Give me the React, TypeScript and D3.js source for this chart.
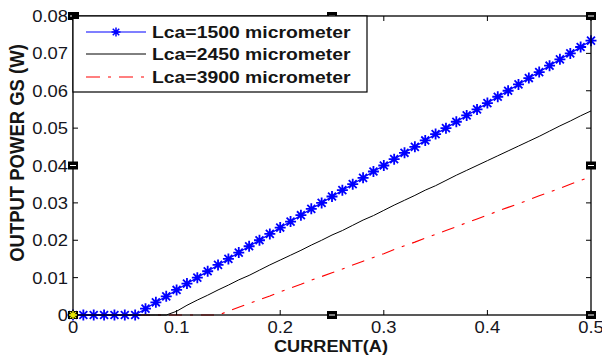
import React from "react";
import * as d3 from "d3";

const currents = [0, 0.01, 0.02, 0.03, 0.04, 0.05, 0.06, 0.07, 0.08, 0.09, 0.1, 0.11, 0.12, 0.13, 0.14, 0.15, 0.16, 0.17, 0.18, 0.19, 0.2, 0.21, 0.22, 0.23, 0.24, 0.25, 0.26, 0.27, 0.28, 0.29, 0.3, 0.31, 0.32, 0.33, 0.34, 0.35, 0.36, 0.37, 0.38, 0.39, 0.4, 0.41, 0.42, 0.43, 0.44, 0.45, 0.46, 0.47, 0.48, 0.49, 0.5];

const powerL1500 = [0, 0, 0, 0, 0, 0, 0, 0.0017, 0.0034, 0.005, 0.0067, 0.0084, 0.01, 0.0117, 0.0134, 0.015, 0.0167, 0.0184, 0.02, 0.0217, 0.0234, 0.025, 0.0267, 0.0284, 0.03, 0.0317, 0.0334, 0.035, 0.0367, 0.0384, 0.04, 0.0417, 0.0434, 0.045, 0.0467, 0.0484, 0.05, 0.0517, 0.0534, 0.055, 0.0567, 0.0584, 0.06, 0.0617, 0.0634, 0.065, 0.0667, 0.0684, 0.07, 0.0717, 0.0734];

const powerL2450 = [0, 0, 0, 0, 0, 0, 0, 0, 0, 0, 0.001, 0.0026, 0.004, 0.0053, 0.0067, 0.008, 0.0094, 0.0106, 0.012, 0.0134, 0.0147, 0.016, 0.0173, 0.0187, 0.02, 0.0214, 0.0226, 0.024, 0.0254, 0.0266, 0.028, 0.0294, 0.0307, 0.032, 0.0334, 0.0346, 0.036, 0.0374, 0.0387, 0.04, 0.0413, 0.0426, 0.0439, 0.0452, 0.0465, 0.0478, 0.0492, 0.0506, 0.0519, 0.0533, 0.0546];

const powerL3900 = [0, 0, 0, 0, 0, 0, 0, 0, 0, 0, 0, 0, 0, 0, 0, 0.001, 0.0021, 0.0031, 0.0041, 0.0051, 0.0062, 0.0072, 0.0082, 0.0093, 0.0103, 0.0113, 0.0123, 0.0134, 0.0144, 0.0154, 0.0164, 0.0175, 0.0185, 0.0195, 0.0206, 0.0216, 0.0226, 0.0236, 0.0247, 0.0257, 0.0267, 0.0278, 0.0288, 0.0298, 0.0308, 0.0319, 0.0329, 0.0339, 0.035, 0.036, 0.037];

const xTicks = [0, 0.1, 0.2, 0.3, 0.4, 0.5];
const xTickLabels = ["0", "0.1", "0.2", "0.3", "0.4", "0.5"];
const yTicks = [0, 0.01, 0.02, 0.03, 0.04, 0.05, 0.06, 0.07, 0.08];
const yTickLabels = ["0", "0.01", "0.02", "0.03", "0.04", "0.05", "0.06", "0.07", "0.08"];

const squareMarkersX = [0, 0.25, 0.5];
const squareMarkersY = [0, 0.04, 0.08];

const legendLabels = ["Lca=1500 micrometer", "Lca=2450 micrometer", "Lca=3900 micrometer"];

const W = 602;
const H = 360;
const L = 73, R = 591, T = 16, B = 315;

const FONT = "'Liberation Sans', Arial, sans-serif";

function Star({ x, y, r, color, sw }: { x: number; y: number; r: number; color: string; sw: number }) {
  const d = r * 0.72;
  return (
    <path
      d={`M${x - r},${y}H${x + r}M${x},${y - r}V${y + r}M${x - d},${y - d}L${x + d},${y + d}M${x - d},${y + d}L${x + d},${y - d}`}
      stroke={color}
      strokeWidth={sw}
      fill="none"
    />
  );
}

export default function App() {
  const x = d3.scaleLinear().domain([0, 0.5]).range([L, R]);
  const y = d3.scaleLinear().domain([0, 0.08]).range([B, T]);
  const line = d3
    .line<number>()
    .x((_, i) => x(currents[i]))
    .y((d) => y(d));

  const tickLen = 5;

  const squares: [number, number][] = [];
  squareMarkersX.forEach((a) =>
    squareMarkersY.forEach((b) => {
      if (a === 0.25 && b === 0.04) return;
      squares.push([a, b]);
    })
  );

  const legendRows = [32, 54, 77];

  return (
    <svg
      width={W}
      height={H}
      style={{ position: "absolute", left: 0, top: 0, background: "#fff" }}
      fontFamily={FONT}
    >
      <rect x={0} y={0} width={W} height={H} fill="#fff" />

      {/* data lines */}
      <path d={line(powerL3900) || ""} fill="none" stroke="#ff0000" strokeWidth={1.1} strokeDasharray="13,8,3,8" />
      <path d={line(powerL2450) || ""} fill="none" stroke="#000" strokeWidth={1} />
      <path d={line(powerL1500) || ""} fill="none" stroke="#0000ff" strokeWidth={1.2} />
      {powerL1500.map((v, i) => (
        <Star key={i} x={x(currents[i])} y={y(v)} r={5.5} color="#0000ff" sw={1.8} />
      ))}

      {/* axes box */}
      <rect x={L} y={T} width={R - L} height={B - T} fill="none" stroke="#000" strokeWidth={1.3} />

      {/* ticks */}
      {xTicks.map((t, i) => (
        <g key={"xt" + i}>
          <line x1={x(t)} x2={x(t)} y1={B} y2={B - tickLen} stroke="#000" strokeWidth={1} />
          <line x1={x(t)} x2={x(t)} y1={T} y2={T + tickLen} stroke="#000" strokeWidth={1} />
          <text
            transform={`translate(${x(t)},${B + 18}) scale(1.15,1)`}
            textAnchor="middle"
            fontSize={16}
            fill="#151520"
          >
            {xTickLabels[i]}
          </text>
        </g>
      ))}
      {yTicks.map((t, i) => (
        <g key={"yt" + i}>
          <line x1={L} x2={L + tickLen} y1={y(t)} y2={y(t)} stroke="#000" strokeWidth={1} />
          <line x1={R} x2={R - tickLen} y1={y(t)} y2={y(t)} stroke="#000" strokeWidth={1} />
          <text
            transform={`translate(${L - 5},${y(t) + 6}) scale(1.15,1)`}
            textAnchor="end"
            fontSize={16}
            fill="#151520"
          >
            {yTickLabels[i]}
          </text>
        </g>
      ))}

      {/* square markers */}
      {squares.map(([a, b], i) => (
        <g key={"sq" + i}>
          <rect x={x(a) - 5} y={y(b) - 4} width={10} height={8} fill="#000" />
          <line x1={x(a) - 3} x2={x(a) + 3} y1={y(b)} y2={y(b)} stroke="#fff" strokeWidth={1} />
        </g>
      ))}
      <Star x={x(0)} y={y(0)} r={4} color="#e8e800" sw={1.4} />

      {/* legend */}
      <rect x={L} y={T} width={367 - L} height={92 - T} fill="#fff" stroke="#000" strokeWidth={1.2} />
      <line x1={86} x2={146} y1={legendRows[0]} y2={legendRows[0]} stroke="#0000ff" strokeWidth={1.2} />
      <Star x={116} y={legendRows[0]} r={4.5} color="#0000ff" sw={1.5} />
      <line x1={86} x2={146} y1={legendRows[1]} y2={legendRows[1]} stroke="#000" strokeWidth={1} />
      <line x1={86} x2={146} y1={legendRows[2]} y2={legendRows[2]} stroke="#ff0000" strokeWidth={1.1} strokeDasharray="14,8,3,8" />
      {legendLabels.map((s, i) => (
        <text
          key={"lg" + i}
          transform={`translate(152,${legendRows[i] + 6}) scale(1.21,1)`}
          fontSize={16}
          fontWeight="bold"
          fill="#151515"
        >
          {s}
        </text>
      ))}
      {/* top-left marker drawn over legend corner */}
      <rect x={x(0) - 1} y={y(0.08) - 4} width={7} height={7} fill="#000" />

      {/* axis labels */}
      <text
        transform={`translate(331,352) scale(1.07,1)`}
        textAnchor="middle"
        fontSize={17}
        fontWeight="bold"
        fill="#151515"
      >
        CURRENT(A)
      </text>
      <text
        transform={`translate(24,153) scale(1.12,1) rotate(-90)`}
        textAnchor="middle"
        fontSize={18.5}
        fontWeight="bold"
        fill="#151515"
      >
        OUTPUT POWER GS (W)
      </text>
    </svg>
  );
}
